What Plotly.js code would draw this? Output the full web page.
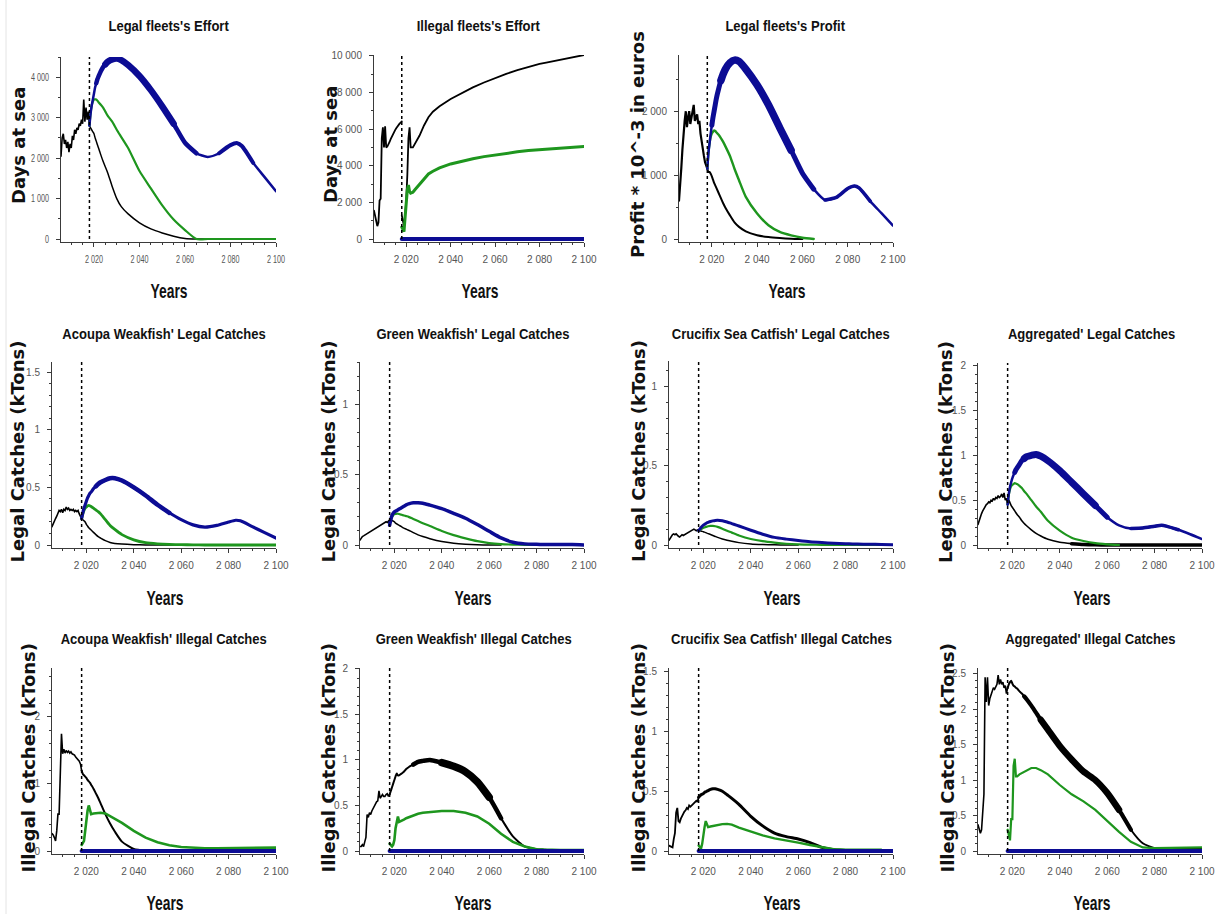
<!DOCTYPE html>
<html>
<head>
<meta charset="utf-8">
<script src="https://cdn.plot.ly/plotly-3.0.1.min.js"></script>
<style>html,body{margin:0;padding:0;background:#fff;}#chart{width:1216px;height:914px;}</style>
</head>
<body>
<div id="chart"></div>
<script>
// ---------------- DATA ----------------
const POLICY_YEAR = 2018;
const X_START = 2005.5, X_END = 2100;
const X_TICK_STEP = 20;

const HIST_YEARS = [2005.5,2006,2006.5,2007,2007.5,2008,2008.5,2009,2009.5,2010,2010.5,2011,2011.5,2012,2012.5,2013,2013.5,2014,2014.5,2015,2015.5,2016,2016.5,2017,2017.5,2018];
const PROJ_YEARS = [2018,2018.5,2019,2019.5,2020,2020.5,2021,2021.5,2022,2023,2024,2025,2026,2028,2030,2032,2035,2040,2045,2050,2055,2060,2065,2070,2075,2080,2083,2085,2090,2095,2100];

const BLUE_ZERO = [0,0,0,0,0,0,0,0,0,0,0,0,0,0,0,0,0,0,0,0,0,0,0,0,0,0,0,0,0,0,0];

// Legal fleets's Effort (days at sea)
const legalEffortHist  = [2050,2500,2600,2350,2450,2250,2400,2150,2350,2250,2550,2450,2700,2600,2750,2700,2850,2800,2950,2850,3450,2900,3250,2950,3150,2800];
const legalEffortBlack = [2800,2750,2700,2650,2600,2500,2420,2330,2250,2080,1920,1780,1640,1300,1000,800,620,400,250,150,70,15,0,0,0,0,0,0,0,0,0];
const legalEffortGreen = [2800,3100,3300,3400,3450,3450,3450,3420,3380,3320,3250,3150,3050,2900,2700,2520,2250,1680,1250,830,480,220,0,0,0,0,0,0,0,0,0];
const legalEffortBlue  = [2800,3100,3300,3450,3600,3750,3850,3950,4020,4150,4250,4320,4380,4440,4460,4420,4300,4030,3680,3280,2850,2380,2120,2030,2120,2320,2370,2300,1880,1530,1180];

// Illegal fleets's Effort (days at sea)
const illegalEffortHist  = [1550,1300,1000,700,900,2100,2200,5500,6100,5000,6150,5000,5050,5150,5300,5450,5600,5750,5850,5950,6050,6150,6220,6300,6360,6420];
const illegalEffortBlack = [1300,900,700,1300,2100,3500,5500,6100,5000,5000,5200,5400,5650,6200,6650,6950,7250,7650,7980,8280,8550,8800,9020,9220,9400,9560,9640,9690,9810,9930,10050];
const illegalEffortGreen = [650,500,400,1200,2000,2700,2950,2600,2500,2550,2700,2850,3000,3300,3550,3700,3880,4100,4250,4380,4500,4600,4680,4760,4830,4880,4910,4930,4980,5010,5050];
const illegalEffortBlue  = BLUE_ZERO;

// Legal fleets's Profit (10^3 euros)
const profitHist  = [600,800,1100,1400,1700,1850,2000,1750,1900,2000,1800,1900,1950,2100,1850,1900,1950,1800,1850,1650,1500,1400,1300,1200,1150,1100];
const profitBlack = [1100,1050,1050,1020,980,930,880,840,800,720,640,560,490,370,260,190,120,60,30,15,5,0,null,null,null,null,null,null,null,null,null];
const profitGreen = [1100,1350,1500,1600,1650,1680,1700,1690,1670,1630,1580,1520,1450,1300,1100,920,660,400,215,110,57,20,0,null,null,null,null,null,null,null,null];
const profitBlue  = [1100,1350,1500,1650,1780,1900,2000,2100,2200,2350,2480,2580,2660,2760,2800,2780,2660,2410,2100,1740,1390,1030,780,610,650,790,830,800,590,400,210];

// Acoupa Weakfish' Legal Catches (kTons)
const acoupaLegalHist  = [0.16,0.19,0.21,0.23,0.25,0.27,0.30,0.29,0.31,0.28,0.31,0.30,0.33,0.31,0.32,0.30,0.31,0.30,0.31,0.29,0.30,0.29,0.30,0.27,0.25,0.23];
const acoupaLegalBlack = [0.23,0.22,0.21,0.20,0.18,0.165,0.15,0.14,0.13,0.11,0.09,0.072,0.06,0.038,0.022,0.014,0.008,0.003,0.001,0,0,0,0,null,null,null,null,null,null,null,null];
const acoupaLegalGreen = [0.23,0.27,0.30,0.32,0.33,0.34,0.345,0.34,0.335,0.32,0.305,0.29,0.27,0.22,0.17,0.135,0.09,0.045,0.02,0.01,0.005,0.003,0.001,0,0,0,0,0,0,0,0];
const acoupaLegalBlue  = [0.23,0.28,0.32,0.35,0.38,0.41,0.43,0.45,0.46,0.49,0.51,0.53,0.545,0.565,0.58,0.58,0.56,0.50,0.43,0.35,0.28,0.22,0.175,0.155,0.17,0.20,0.215,0.21,0.16,0.11,0.06];

// Green Weakfish' Legal Catches (kTons)
const greenLegalHist  = [0.035,0.05,0.06,0.065,0.07,0.08,0.08,0.09,0.095,0.10,0.10,0.11,0.11,0.12,0.125,0.13,0.135,0.14,0.145,0.15,0.15,0.16,0.165,0.16,0.17,0.15];
const greenLegalBlack = [0.15,0.165,0.175,0.17,0.165,0.155,0.15,0.145,0.14,0.13,0.12,0.113,0.105,0.088,0.072,0.06,0.045,0.025,0.013,0.006,0.002,0,0,null,null,null,null,null,null,null,null];
const greenLegalGreen = [0.15,0.18,0.20,0.21,0.22,0.22,0.222,0.222,0.22,0.215,0.21,0.205,0.20,0.185,0.17,0.155,0.135,0.10,0.07,0.047,0.027,0.013,0.006,0.003,0.001,0,0,0,0,0,0];
const greenLegalBlue  = [0.14,0.18,0.21,0.225,0.235,0.24,0.245,0.25,0.255,0.265,0.275,0.285,0.292,0.30,0.30,0.297,0.283,0.258,0.225,0.19,0.145,0.097,0.05,0.02,0.008,0.005,0.004,0.004,0.003,0.003,0];

// Crucifix Sea Catfish' Legal Catches (kTons)
const catfishLegalHist  = [0.03,0.045,0.055,0.065,0.07,0.065,0.07,0.06,0.055,0.05,0.06,0.065,0.06,0.065,0.07,0.07,0.075,0.08,0.085,0.09,0.095,0.10,0.095,0.09,0.095,0.09];
const catfishLegalBlack = [0.09,0.09,0.088,0.086,0.084,0.081,0.078,0.075,0.072,0.066,0.06,0.054,0.048,0.038,0.03,0.023,0.015,0.007,0.003,0.001,0,0,null,null,null,null,null,null,null,null,null];
const catfishLegalGreen = [0.09,0.095,0.10,0.104,0.108,0.111,0.114,0.116,0.118,0.12,0.12,0.118,0.114,0.103,0.09,0.078,0.06,0.038,0.024,0.015,0.008,0.004,0.002,0.001,0,0,0,0,0,0,0];
const catfishLegalBlue  = [0.09,0.10,0.11,0.118,0.125,0.13,0.135,0.14,0.143,0.148,0.152,0.155,0.156,0.153,0.145,0.135,0.12,0.093,0.068,0.048,0.037,0.028,0.02,0.015,0.011,0.008,0.007,0.006,0.005,0.003,0.002];

// Aggregated' Legal Catches (kTons)
const aggLegalHist  = [0.23,0.28,0.32,0.35,0.38,0.41,0.43,0.45,0.46,0.48,0.47,0.50,0.49,0.52,0.50,0.53,0.52,0.55,0.53,0.54,0.57,0.53,0.58,0.50,0.52,0.45];
const aggLegalBlack = [0.45,0.50,0.47,0.44,0.42,0.40,0.38,0.36,0.34,0.31,0.27,0.24,0.215,0.17,0.13,0.10,0.063,0.03,0.015,0.006,0.002,0,0,0,0,0,0,0,0,0,0];
const aggLegalGreen = [0.45,0.56,0.62,0.655,0.67,0.68,0.69,0.685,0.68,0.66,0.635,0.60,0.57,0.50,0.43,0.37,0.27,0.16,0.082,0.045,0.02,0.008,0,null,null,null,null,null,null,null,null];
const aggLegalBlue  = [0.45,0.57,0.65,0.70,0.745,0.78,0.81,0.84,0.86,0.90,0.94,0.965,0.985,1.00,1.01,0.99,0.94,0.83,0.70,0.57,0.44,0.31,0.22,0.185,0.19,0.21,0.22,0.21,0.17,0.12,0.067];

// Acoupa Weakfish' Illegal Catches (kTons)
const acoupaIllegalHist  = [0.26,0.24,0.20,0.15,0.30,0.55,0.55,1.10,1.75,1.45,1.52,1.46,1.50,1.47,1.49,1.46,1.48,1.45,1.44,1.43,1.40,1.38,1.36,1.34,1.30,1.20];
const acoupaIllegalBlack = [1.20,1.15,1.13,1.11,1.09,1.06,1.04,1.02,0.99,0.93,0.86,0.79,0.71,0.55,0.41,0.29,0.14,0.03,0.005,0,0,0,null,null,null,null,null,null,null,null,null];
const acoupaIllegalGreen = [0.09,0.12,0.15,0.30,0.50,0.60,0.68,0.60,0.55,0.56,0.565,0.57,0.57,0.56,0.52,0.48,0.42,0.30,0.20,0.13,0.085,0.06,0.045,0.04,0.04,0.04,0.04,0.04,0.045,0.05,0.05];
const acoupaIllegalBlue  = BLUE_ZERO;

// Green Weakfish' Illegal Catches (kTons)
const greenIllegalHist  = [0.05,0.05,0.07,0.05,0.10,0.15,0.40,0.37,0.42,0.40,0.44,0.47,0.49,0.52,0.54,0.55,0.66,0.58,0.60,0.62,0.60,0.60,0.62,0.63,0.60,0.62];
const greenIllegalBlack = [0.62,0.66,0.70,0.74,0.78,0.82,0.85,0.83,0.83,0.85,0.87,0.90,0.92,0.95,0.98,0.99,1.00,0.97,0.93,0.87,0.76,0.59,0.36,0.16,0.05,0.02,0.015,0.012,0.01,0.01,0.01];
const greenIllegalGreen = [0.08,0.06,0.05,0.07,0.12,0.25,0.33,0.38,0.32,0.33,0.345,0.36,0.37,0.39,0.41,0.42,0.43,0.44,0.44,0.42,0.38,0.30,0.19,0.10,0.05,0.02,0.015,0.012,0.01,0.01,0.01];
const greenIllegalBlue  = BLUE_ZERO;

// Crucifix Sea Catfish' Illegal Catches (kTons)
const catfishIllegalHist  = [0.045,0.04,0.04,0.03,0.10,0.15,0.32,0.36,0.25,0.24,0.27,0.30,0.31,0.33,0.34,0.36,0.35,0.38,0.37,0.38,0.39,0.40,0.41,0.42,0.41,0.45];
const catfishIllegalBlack = [0.45,0.46,0.47,0.475,0.48,0.49,0.495,0.50,0.505,0.515,0.52,0.52,0.515,0.50,0.47,0.44,0.39,0.29,0.21,0.15,0.12,0.10,0.07,0.03,0.01,0.005,0,0,0,0,0];
const catfishIllegalGreen = [0.045,0.03,0.02,0.06,0.15,0.20,0.25,0.23,0.20,0.205,0.21,0.215,0.22,0.225,0.227,0.22,0.196,0.16,0.13,0.106,0.085,0.07,0.05,0.03,0.015,0.01,0.01,0.01,0.01,0.01,null];
const catfishIllegalBlue  = BLUE_ZERO;

// Aggregated' Illegal Catches (kTons)
const aggIllegalHist  = [0.37,0.30,0.25,0.30,0.60,0.80,2.45,2.10,2.45,2.05,2.15,2.20,2.25,2.30,2.28,2.32,2.35,2.48,2.35,2.42,2.35,2.38,2.30,2.33,2.22,2.30];
const aggIllegalBlack = [2.30,2.35,2.38,2.40,2.36,2.33,2.32,2.30,2.29,2.25,2.22,2.18,2.14,2.05,1.95,1.85,1.71,1.48,1.29,1.12,1.00,0.82,0.58,0.30,0.11,0.04,0.035,0.03,0.03,0.03,0.03];
const aggIllegalGreen = [0.30,0.20,0.15,0.45,0.45,1.20,1.30,1.05,1.05,1.08,1.10,1.12,1.14,1.17,1.17,1.14,1.08,0.93,0.80,0.70,0.58,0.42,0.27,0.13,0.05,0.04,0.04,0.04,0.045,0.05,0.05];
const aggIllegalBlue  = BLUE_ZERO;

// ---------------- STYLE / LAYOUT CONFIG ----------------
const W = 1216, H = 914;
const COL = {black: '#000000', green: '#1e961e', blue: '#0c0c94'};
const SANS = '"Liberation Sans", Arial, sans-serif';
const WIDE_BOLD = '"DejaVu Sans", Verdana, sans-serif';

// w: base widths [hist, black, green, blue]; sm: spline for [black, green, blue]; bands: thicker noisy stretches (style only)
const panels = [
  {title:"Legal fleets's Effort", ytitle:'Days at sea', hist:legalEffortHist, black:legalEffortBlack, green:legalEffortGreen, blue:legalEffortBlue,
   ymax:4500, dtick:1000, minor:500, box:[61,276,57,239], tpos:[168,25], ytx:18, xtpos:[169,290],
   w:[1.6,1.5,2.2,2.5], sm:[1,1,1],
   bands:[{s:'blue',a:2021,b:2066,w:4.5},{s:'blue',a:2025,b:2056,w:6.5},{s:'blue',a:2075,b:2091,w:4}]},
  {title:"Illegal fleets's Effort", ytitle:'Days at sea', hist:illegalEffortHist, black:illegalEffortBlack, green:illegalEffortGreen, blue:illegalEffortBlue,
   ymax:10050, dtick:2000, minor:1000, box:[374,584,55,239], tpos:[478,25], ytx:330, xtpos:[480,290],
   w:[1.8,1.8,3,4], sm:[0,0,0], bands:[]},
  {title:"Legal fleets's Profit", ytitle:'Profit * 10^-3 in euros', hist:profitHist, black:profitBlack, green:profitGreen, blue:profitBlue,
   ymax:2880, dtick:1000, minor:500, box:[679,893,55,239], tpos:[785,25], ytx:637, xtpos:[787,290],
   w:[2.2,2,2.4,2.5], sm:[1,1,1],
   bands:[{s:'blue',a:2020,b:2066,w:5},{s:'blue',a:2024,b:2058,w:7.5},{s:'blue',a:2066,b:2092,w:3.6}]},
  {title:"Acoupa Weakfish' Legal Catches", ytitle:'Legal Catches (kTons)', hist:acoupaLegalHist, black:acoupaLegalBlack, green:acoupaLegalGreen, blue:acoupaLegalBlue,
   ymax:1.59, dtick:0.5, minor:0.1, box:[52,276,362,545], tpos:[164,333], ytx:17, xtpos:[165,597],
   w:[1.6,1.5,2.8,3.2], sm:[1,1,1], bands:[{s:'blue',a:2024,b:2058,w:4.5}]},
  {title:"Green Weakfish' Legal Catches", ytitle:'Legal Catches (kTons)', hist:greenLegalHist, black:greenLegalBlack, green:greenLegalGreen, blue:greenLegalBlue,
   ymax:1.30, dtick:0.5, minor:0.1, box:[360,584,362,545], tpos:[473,333], ytx:328, xtpos:[473,597],
   w:[1.6,1.5,2.2,3.5], sm:[1,1,1], bands:[]},
  {title:"Crucifix Sea Catfish' Legal Catches", ytitle:'Legal Catches (kTons)', hist:catfishLegalHist, black:catfishLegalBlack, green:catfishLegalGreen, blue:catfishLegalBlue,
   ymax:1.16, dtick:0.5, minor:0.1, box:[669,893,361,545], tpos:[781,333], ytx:638, xtpos:[782,597],
   w:[1.6,1.5,2.2,3], sm:[1,1,1], bands:[]},
  {title:"Aggregated' Legal Catches", ytitle:'Legal Catches (kTons)', hist:aggLegalHist, black:aggLegalBlack, green:aggLegalGreen, blue:aggLegalBlue,
   ymax:2.03, dtick:0.5, minor:0.1, box:[978,1202,363,545], tpos:[1091,333], ytx:945, xtpos:[1092,597],
   w:[1.6,1.6,2.2,2.5], sm:[1,1,1],
   bands:[{s:'black',a:2045,b:2100,w:3.5},{s:'blue',a:2021,b:2062,w:5},{s:'blue',a:2025,b:2055,w:7},{s:'blue',a:2066,b:2090,w:3.5}]},
  {title:"Acoupa Weakfish' Illegal Catches", ytitle:'Illegal Catches (kTons)', hist:acoupaIllegalHist, black:acoupaIllegalBlack, green:acoupaIllegalGreen, blue:acoupaIllegalBlue,
   ymax:2.73, dtick:1, minor:0.2, box:[52,276,668,851], tpos:[163,638], ytx:28, xtpos:[165,902],
   w:[1.6,2,2.6,4], sm:[1,0,0], bands:[]},
  {title:"Green Weakfish' Illegal Catches", ytitle:'Illegal Catches (kTons)', hist:greenIllegalHist, black:greenIllegalBlack, green:greenIllegalGreen, blue:greenIllegalBlue,
   ymax:2.01, dtick:0.5, minor:0.1, box:[360,584,668,851], tpos:[473,638], ytx:328, xtpos:[473,902],
   w:[1.6,2,2.6,4], sm:[1,0,0], bands:[{s:'black',a:2028,b:2066,w:4.5},{s:'black',a:2036,b:2060,w:7.5}]},
  {title:"Crucifix Sea Catfish' Illegal Catches", ytitle:'Illegal Catches (kTons)', hist:catfishIllegalHist, black:catfishIllegalBlack, green:catfishIllegalGreen, blue:catfishIllegalBlue,
   ymax:1.53, dtick:0.5, minor:0.1, box:[669,893,668,851], tpos:[781,638], ytx:638, xtpos:[782,902],
   w:[1.8,3,2.4,4], sm:[1,0,0], bands:[]},
  {title:"Aggregated' Illegal Catches", ytitle:'Illegal Catches (kTons)', hist:aggIllegalHist, black:aggIllegalBlack, green:aggIllegalGreen, blue:aggIllegalBlue,
   ymax:2.58, dtick:0.5, minor:0.1, box:[978,1202,668,851], tpos:[1090,638], ytx:947, xtpos:[1092,902],
   w:[1.6,2,2.2,4], sm:[1,0,0], bands:[{s:'black',a:2025,b:2072,w:4.2},{s:'black',a:2032,b:2066,w:6.5}]}
];

const traces = [];
const squeezeByAnn = [];
const layout = {
  width: W, height: H,
  margin: {l:0, r:0, t:0, b:0, pad:0},
  paper_bgcolor: '#ffffff', plot_bgcolor: 'rgba(0,0,0,0)',
  showlegend: false,
  separators: '. ',
  annotations: [],
  shapes: [
    {type:'line', xref:'paper', yref:'paper', x0:6/W, x1:6/W, y0:0, y1:1, line:{color:'#e4e4e4', width:1}}
  ]
};

const AXIS_COL = '#3a3a3a';
const TICK_FONT = {family: SANS, size: 10, color: '#555555'};

function lineOf(color, width, smooth) {
  return smooth ? {color: color, width: width, shape: 'spline', smoothing: 0.6} : {color: color, width: width};
}

panels.forEach((p, i) => {
  const n = i + 1;
  const sx = n === 1 ? '' : String(n);
  const xa = 'x' + sx, ya = 'y' + sx;
  const [l, r, t, b] = p.box;
  const padPx = 2.5;
  const bPx = b + padPx;
  const yminv = -p.ymax * padPx / (b - t);

  layout['xaxis' + sx] = {
    domain: [l / W, r / W], anchor: ya,
    range: [X_START, X_END], tick0: 2000, dtick: X_TICK_STEP,
    showline: true, linecolor: AXIS_COL, linewidth: 1,
    ticks: 'outside', ticklen: 4, tickcolor: AXIS_COL, tickwidth: 1,
    minor: {ticks: 'outside', dtick: 5, tick0: 2000, ticklen: 2.5, tickcolor: AXIS_COL, showgrid: false},
    showgrid: false, zeroline: false, separatethousands: true, exponentformat: 'none',
    tickfont: TICK_FONT, ticklabelstandoff: 4, layer: 'below traces', fixedrange: true
  };
  layout['yaxis' + sx] = {
    domain: [1 - bPx / H, 1 - t / H], anchor: xa,
    range: [yminv, p.ymax], tick0: 0, dtick: p.dtick,
    showline: true, linecolor: AXIS_COL, linewidth: 1,
    ticks: 'outside', ticklen: 4, tickcolor: AXIS_COL, tickwidth: 1,
    minor: {ticks: 'outside', dtick: p.minor, tick0: 0, ticklen: 2.5, tickcolor: AXIS_COL, showgrid: false},
    showgrid: false, zeroline: false, separatethousands: true, exponentformat: 'none',
    tickfont: TICK_FONT, ticklabelstandoff: 5, layer: 'below traces', fixedrange: true
  };

  const common = {type: 'scatter', mode: 'lines', xaxis: xa, yaxis: ya, hoverinfo: 'skip', showlegend: false, connectgaps: false};
  traces.push(Object.assign({}, common, {x: HIST_YEARS, y: p.hist, line: lineOf(COL.black, p.w[0], false)}));
  const series = ['black', 'green', 'blue'];
  series.forEach((s, k) => {
    traces.push(Object.assign({}, common, {x: PROJ_YEARS, y: p[s], line: lineOf(COL[s], p.w[k + 1], p.sm[k])}));
    p.bands.filter(bd => bd.s === s).forEach(bd => {
      const bx = [], by = [];
      PROJ_YEARS.forEach((yr, j) => { if (yr >= bd.a && yr <= bd.b) { bx.push(yr); by.push(p[s][j]); } });
      traces.push(Object.assign({}, common, {x: bx, y: by, line: lineOf(COL[s], bd.w, p.sm[k])}));
    });
  });

  // policy year dotted line
  layout.shapes.push({type: 'line', xref: xa, yref: ya, x0: POLICY_YEAR, x1: POLICY_YEAR, y0: 0, y1: p.ymax,
    line: {color: '#000', width: 1.5, dash: 'dot'}});

  // subplot title
  layout.annotations.push({xref: 'paper', yref: 'paper', x: p.tpos[0] / W, y: 1 - p.tpos[1] / H,
    xanchor: 'center', yanchor: 'middle', showarrow: false, text: p.title,
    font: {family: SANS, size: 15.5, color: '#111', weight: 'bold'}});
  squeezeByAnn.push(0.84);
  // y title
  layout.annotations.push({xref: 'paper', yref: 'paper', x: p.ytx / W, y: 1 - ((t + b) / 2 - 2) / H,
    xanchor: 'center', yanchor: 'middle', showarrow: false, text: p.ytitle, textangle: -90,
    font: {family: WIDE_BOLD, size: 18, color: '#111', weight: 'bold'}});
  squeezeByAnn.push(1);
  // x title
  layout.annotations.push({xref: 'paper', yref: 'paper', x: p.xtpos[0] / W, y: 1 - p.xtpos[1] / H,
    xanchor: 'center', yanchor: 'middle', showarrow: false, text: 'Years',
    font: {family: SANS, size: 21, color: '#111', weight: 'bold'}});
  squeezeByAnn.push(0.66);
});

function squeezeText(el, f) {
  if (!el || f === 1) return;
  const w = el.getComputedTextLength();
  if (w > 0) {
    el.setAttribute('textLength', (w * f).toFixed(2));
    el.setAttribute('lengthAdjust', 'spacingAndGlyphs');
  }
}

Plotly.newPlot('chart', traces, layout, {staticPlot: true, displayModeBar: false}).then(gd => {
  gd.querySelectorAll('.xtick text, .ytick text').forEach(el => squeezeText(el, 0.72));
  gd.querySelectorAll('g.annotation').forEach(g => {
    const idx = parseInt(g.getAttribute('data-index'), 10);
    const f = squeezeByAnn[idx];
    g.querySelectorAll('text.annotation-text').forEach(el => squeezeText(el, f));
  });
  gd.querySelectorAll('.scatterlayer path.js-line').forEach(el => { el.style.strokeLinecap = 'round'; });
});
</script>
</body>
</html>
